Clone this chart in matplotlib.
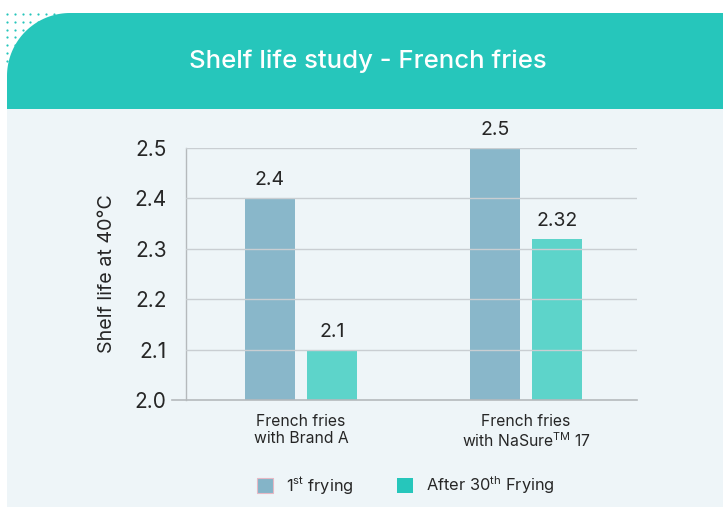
import numpy as np
import matplotlib
matplotlib.use('Agg')
import matplotlib.pyplot as plt
from matplotlib.patches import Rectangle, Polygon, Patch

plt.rcParams['font.family'] = ['Inter', 'DejaVu Sans']
plt.rcParams['mathtext.fontset'] = 'custom'
plt.rcParams['mathtext.rm'] = 'Inter'

# data
categories = ['French fries\nwith Brand A', 'French fries\nwith NaSure$^{\\rm TM}$ 17']
first_frying = [2.4, 2.5]
after_30 = [2.1, 2.32]
value_labels_1 = ['2.4', '2.5']
value_labels_2 = ['2.1', '2.32']
yticks = [2.0, 2.1, 2.2, 2.3, 2.4, 2.5]
series_names = ['1$^{\\rm st}$ frying', 'After 30$^{\\rm th}$ Frying']

C = dict(
    teal='#26C6BB',
    panel='#EEF5F8',
    bar1='#84B4C8',
    bar2='#55D3C8',
    grid='#C9CED2',
    text='#262626',
)

W, H = 723, 507
fig = plt.figure(figsize=(W / 100, H / 100), dpi=100, facecolor='white')

# background layer in pixel coords
bg = fig.add_axes([0, 0, 1, 1])
bg.set_xlim(0, W)
bg.set_ylim(H, 0)
bg.axis('off')

# dotted grid in top-left corner
for dx in range(7):
    for dy in range(7):
        bg.plot(7 + dx * 7.8, 14 + dy * 7.8, 'o', ms=1.6, color=C['teal'], mec='none', zorder=1)

bg.add_patch(Rectangle((7, 109), W - 7, H - 109, facecolor=C['panel'], edgecolor='none', zorder=2))

# header with rounded top-left corner
r = 63
t = np.linspace(np.pi, 1.5 * np.pi, 40)
arc = np.column_stack([7 + r + r * np.cos(t), 13 + r + r * np.sin(t)])
pts = np.vstack([[[7, 109]], arc, [[W, 13], [W, 109]]])
bg.add_patch(Polygon(pts, closed=True, facecolor=C['teal'], edgecolor='none', zorder=3))
bg.text(368, 61, 'Shelf life study - French fries', color='white', fontsize=18.5,
        fontweight='medium', ha='center', va='center', zorder=4)

# ylabel placed in pixel coords
bg.text(107, 274, 'Shelf life at 40\u00b0C', rotation=90, fontsize=14.2, color=C['text'],
        ha='center', va='center', zorder=4)

# main chart
ax = fig.add_axes([186 / W, 1 - 400 / H, 451 / W, 252 / H])
ax.set_facecolor('none')
x = np.arange(len(categories))
bw = 0.222
off = 0.138
ax.bar(x - off, np.array(first_frying) - 2.0, bottom=2.0, width=bw, color=C['bar1'], alpha=0.95, zorder=2)
ax.bar(x + off, np.array(after_30) - 2.0, bottom=2.0, width=bw, color=C['bar2'], alpha=0.95, zorder=2)

for xi, v, lab in zip(x - off, first_frying, value_labels_1):
    ax.text(xi, v + 0.018, lab, ha='center', va='bottom', fontsize=14, color=C['text'])
for xi, v, lab in zip(x + off, after_30, value_labels_2):
    ax.text(xi, v + 0.018, lab, ha='center', va='bottom', fontsize=14, color=C['text'])

ax.set_xlim(-0.511, 1.493)
ax.set_ylim(2.0, 2.5)
ax.set_yticks(yticks)
ax.set_yticklabels(['%.1f' % v for v in yticks])
for v in yticks[1:]:
    ax.axhline(v, color=C['grid'], lw=1.0, zorder=3)
ax.plot([-0.573, 1.493], [2.0, 2.0], color='#B5B9BC', lw=1.2, clip_on=False, zorder=4)

for s in ['top', 'right', 'bottom']:
    ax.spines[s].set_visible(False)
ax.spines['left'].set_color('#B5B9BC')
ax.spines['left'].set_linewidth(1.0)
ax.tick_params(axis='y', length=0, pad=14, labelsize=15, labelcolor=C['text'])
ax.tick_params(axis='x', length=0, pad=10, labelsize=11.3, labelcolor=C['text'])
ax.set_xticks(x)
ax.set_xticklabels(categories, linespacing=1.15)

handles = [Patch(facecolor=C['bar1'], edgecolor='#E6B8C4', lw=0.8),
           Patch(facecolor=C['teal'], edgecolor='none')]
fig.legend(handles, series_names, loc='center', bbox_to_anchor=(406 / W, 1 - 485 / H), ncol=2,
           frameon=False, fontsize=11.8, handlelength=1.0, handleheight=1.0, handletextpad=0.8,
           columnspacing=2.6, labelcolor=C['text'])

fig.savefig('out.png', dpi=100, facecolor='white')
